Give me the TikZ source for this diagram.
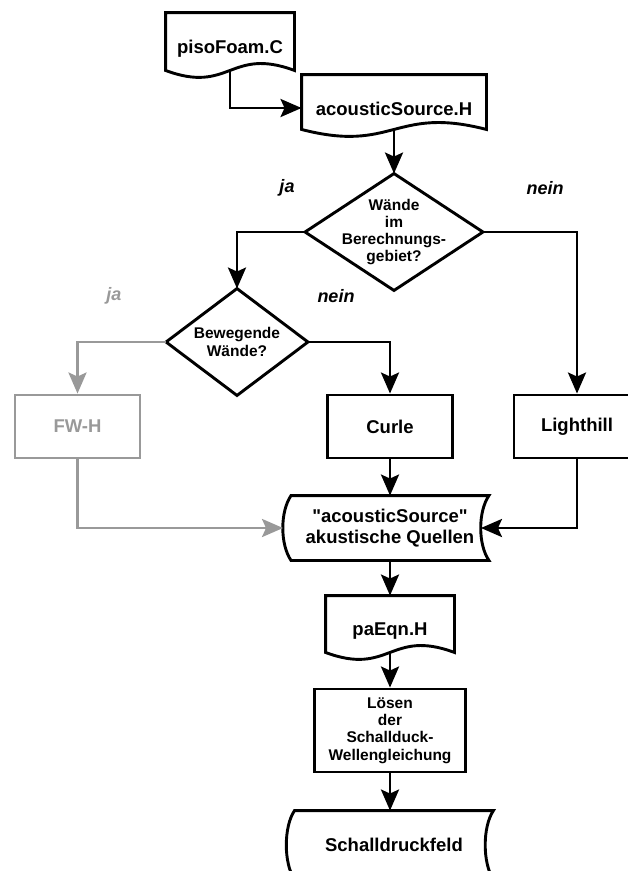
\documentclass[tikz,border=0pt]{standalone}
\usepackage{fontspec}
\setmainfont{Liberation Sans}[Ligatures=TeXOff]
\usetikzlibrary{arrows.meta,calc}
\definecolor{muted}{RGB}{153,153,153}

% outline of a document symbol (wavy bottom edge)
\newcommand\docpath[1]{%
  \draw (#1.south west) -- (#1.north west) -- (#1.north east) -- (#1.south east)
    .. controls ($(#1.south)+(0,-24)$) and ($(#1.south)+(0,24)$) .. cycle;}
% outline of a stored-data symbol (curved sides)
\newcommand\storepath[1]{%
  \draw (#1.north west) -- (#1.north east)
    .. controls ($(#1.north east)+(-11,16)$) and ($(#1.south east)+(-11,-16)$) .. (#1.south east)
    -- (#1.south west)
    .. controls ($(#1.south west)+(-11,-16)$) and ($(#1.north west)+(-11,16)$) .. cycle;}
% outline of a decision symbol
\newcommand\diapath[1]{%
  \draw (#1.north) -- (#1.east) -- (#1.south) -- (#1.west) -- cycle;}

\begin{document}
\begin{tikzpicture}[x=1pt,y=-1pt,
  line width=2.9pt, line join=miter,
  base/.style={draw=none, inner sep=0pt, align=center,
    font=\bfseries\fontsize{18.5}{21}\selectfont},
  small/.style={base, font=\bfseries\fontsize{15.5}{17.3}\selectfont},
  box/.style={base, draw},
  flow/.style={-{Stealth[length=21pt,width=18pt,inset=4pt]}},
  tag/.style={inner sep=0pt, font=\bfseries\itshape\fontsize{18}{20}\selectfont},
]
\useasboundingbox (0,0) rectangle (628,871);
\clip (0,0) rectangle (628,871);

% nodes
\node[base, minimum width=126pt, minimum height=55pt] (piso) at (230,41.5)
  {\raisebox{-7pt}[\height][\depth]{pisoFoam.C}};
\node[base, minimum width=182pt, minimum height=52pt] (acs) at (394,102)
  {\raisebox{-7pt}[\height][\depth]{acousticSource.H}};
\node[small, minimum width=175pt, minimum height=114pt] (d1) at (394,232)
  {Wände\\im\\Berechnungs-\\gebiet?};
\node[small, minimum width=139pt, minimum height=104pt] (d2) at (237,342)
  {Bewegende\\Wände?};
\node[box, draw=muted, text=muted, minimum width=125pt, minimum height=63pt] (fwh) at (77.5,426.5) {FW-H};
\node[box, minimum width=125pt, minimum height=63pt] (curle) at (390,426.5) {Curle};
\node[box, minimum width=126pt, minimum height=63pt] (light) at (577,426.5) {Lighthill};
\node[base, minimum width=195pt, minimum height=62pt] (src) at (390,528)
  {"acousticSource"\\akustische Quellen};
\node[base, minimum width=126pt, minimum height=54pt] (pa) at (390,624)
  {\raisebox{-7pt}[\height][\depth]{paEqn.H}};
\node[small, draw, minimum width=151pt, minimum height=83pt] (sol) at (390,730.5)
  {Lösen\\der\\Schallduck-\\Wellengleichung};
\node[base, minimum width=196pt, minimum height=66pt] (sdf) at (394,845)
  {Schalldruckfeld};

% symbol outlines
\docpath{piso}
\docpath{acs}
\docpath{pa}
\diapath{d1}
\diapath{d2}
\storepath{src}
\storepath{sdf}

\coordinate (src-w) at ($(src.west)+(-8,0)$);
\coordinate (src-e) at ($(src.east)+(-8,0)$);

% branch labels
\node[tag] (ja1) at (287,188) {ja};
\node[tag] (nein1) at (545,188) {nein};
\node[tag, text=muted] (ja2) at (114,296) {ja};
\node[tag] (nein2) at (336,296) {nein};

% connectors
\draw[flow] (piso.south) |- ([yshift=-6pt]acs.west);
\draw[flow] (acs.south) -- (d1.north);
\draw[flow] (d1.west) -| (d2.north);
\draw[flow] (d1.east) -| (light.north);
\draw[flow, muted] (d2.west) -| (fwh.north);
\draw[flow] (d2.east) -| (curle.north);
\draw[flow] (curle.south) -- (src.north);
\draw[flow, muted] (fwh.south) |- (src-w);
\draw[flow] (light.south) |- (src-e);
\draw[flow] (src.south) -- (pa.north);
\draw[flow] (pa.south) -- (sol.north);
\draw[flow] (sol.south) -- (sol.south |- sdf.north);
\end{tikzpicture}
\end{document}
